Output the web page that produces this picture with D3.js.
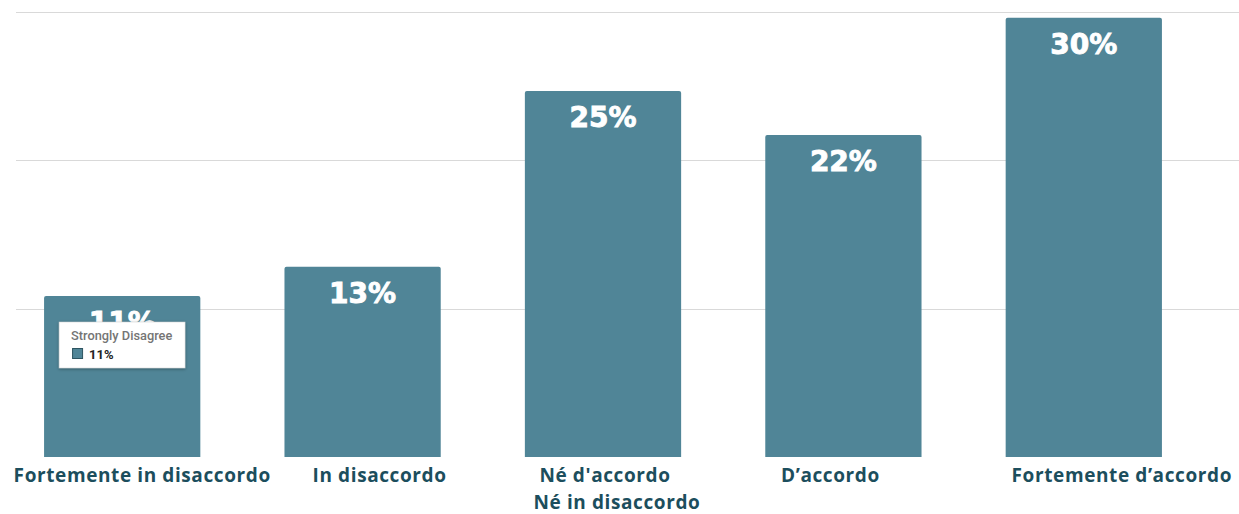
<!DOCTYPE html>
<html>
<head>
<meta charset="utf-8">
<script src="https://cdn.jsdelivr.net/npm/d3@7"></script>
<style>
  html, body { margin: 0; padding: 0; background: #ffffff; }
  svg { display: block; }
</style>
</head>
<body>
<svg id="chart" width="1239" height="514"></svg>
<script>
// Survey answers (Italian scale) and share of respondents, in percent
const categories = [
  "Fortemente in disaccordo",
  "In disaccordo",
  "Né d'accordo\nNé in disaccordo",
  "D’accordo",
  "Fortemente d’accordo"
];
const shares = [11, 13, 25, 22, 30];
const valueLabels = ["11%", "13%", "25%", "22%", "30%"];

// Hover box shown over the first bar
const tooltipTitle = "Strongly Disagree";
const tooltipValue = "11%";

const yMax = 30.4;
const gridCount = 3;

const barColor = "#508597";
const labelColor = "#1c4e5d";

const svg = d3.select("#chart");

const x = d3.scaleBand()
  .domain(categories)
  .range([2, 1204])
  .paddingInner(0.35)
  .paddingOuter(0.175);

const y = d3.scaleLinear()
  .domain([0, yMax])
  .range([457, 12]);

// horizontal gridlines
const gridValues = d3.range(1, gridCount + 1).map(i => yMax * i / gridCount);
svg.append("g")
  .selectAll("line")
  .data(gridValues)
  .join("line")
  .attr("x1", 16)
  .attr("x2", 1239)
  .attr("y1", d => Math.round(y(d)) + 0.5)
  .attr("y2", d => Math.round(y(d)) + 0.5)
  .attr("stroke", "#d9d9d9")
  .attr("stroke-width", 1);

const rows = categories.map((c, i) => ({ cat: c, v: shares[i], label: valueLabels[i] }));

// bars with slightly rounded tops
function barPath(d) {
  const x0 = x(d.cat), w = x.bandwidth();
  const top = y(d.v), bot = y(0), r = 2;
  return `M${x0},${bot}V${top + r}Q${x0},${top} ${x0 + r},${top}` +
         `H${x0 + w - r}Q${x0 + w},${top} ${x0 + w},${top + r}V${bot}Z`;
}
svg.append("g")
  .selectAll("path")
  .data(rows)
  .join("path")
  .attr("d", barPath)
  .attr("fill", barColor);

// value labels inside the bars
svg.append("g")
  .selectAll("text")
  .data(rows)
  .join("text")
  .attr("x", d => x(d.cat) + x.bandwidth() / 2)
  .attr("y", d => y(d.v) + 36)
  .attr("text-anchor", "middle")
  .attr("fill", "#ffffff")
  .attr("stroke", "#ffffff")
  .attr("stroke-width", 0.9)
  .style("font-family", "'DejaVu Sans', sans-serif")
  .style("font-weight", "bold")
  .style("font-size", "28px")
  .text(d => d.label);

// category labels under the bars (hand-nudged horizontally)
const labelNudge = [20, 17, 7, -13, 38];
const catG = svg.append("g")
  .selectAll("text")
  .data(rows)
  .join("text")
  .attr("x", (d, i) => x(d.cat) + x.bandwidth() / 2 + labelNudge[i])
  .attr("y", 482)
  .attr("text-anchor", "middle")
  .attr("fill", labelColor)
  .style("font-family", "'Open Sans', sans-serif")
  .style("font-weight", "700")
  .style("font-size", "19px")
  .style("letter-spacing", "0.6px");
catG.each(function(d) {
  const lines = d.cat.split("\n");
  const multi = lines.length > 1;
  d3.select(this).selectAll("tspan")
    .data(lines)
    .join("tspan")
    .attr("x", d3.select(this).attr("x"))
    .attr("dy", (l, j) => j === 0 ? 0 : 27)
    .attr("dx", (l, j) => multi ? (j === 0 ? -5 : 7) : 0)
    .text(l => l);
});

// tooltip
const defs = svg.append("defs");
const f = defs.append("filter").attr("id", "tipShadow")
  .attr("x", "-20%").attr("y", "-20%").attr("width", "140%").attr("height", "160%");
f.append("feDropShadow").attr("dx", 0).attr("dy", 1).attr("stdDeviation", 1.5)
  .attr("flood-color", "#000").attr("flood-opacity", 0.35);

const tipX = x(categories[0]) + 15, tipY = 322;
const tip = svg.append("g").attr("transform", `translate(${tipX},${tipY})`);
tip.append("rect")
  .attr("width", 126).attr("height", 46)
  .attr("fill", "#ffffff")
  .attr("stroke", "#cccccc").attr("stroke-width", 0.5)
  .attr("filter", "url(#tipShadow)");
tip.append("text")
  .attr("x", 12).attr("y", 18)
  .attr("fill", "#757575")
  .style("font-family", "Roboto, sans-serif")
  .style("font-weight", "500")
  .style("font-size", "12.8px")
  .text(tooltipTitle);
tip.append("rect")
  .attr("x", 13.5).attr("y", 26.5).attr("width", 10).attr("height", 10)
  .attr("fill", barColor).attr("stroke", "#2d5461").attr("stroke-width", 1);
tip.append("text")
  .attr("x", 30).attr("y", 36.5)
  .attr("fill", "#222222")
  .style("font-family", "Roboto, sans-serif")
  .style("font-weight", "700")
  .style("font-size", "13px")
  .text(tooltipValue);
</script>
</body>
</html>
